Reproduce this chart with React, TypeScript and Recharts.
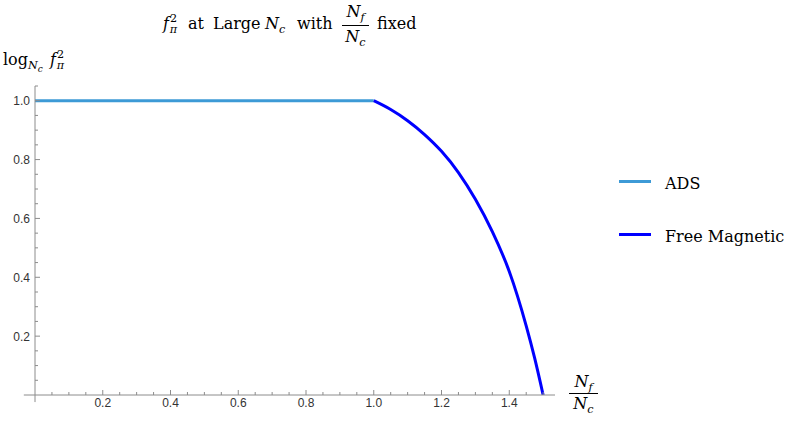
import { LineChart, Line, XAxis, YAxis, ReferenceLine } from 'recharts';

// values
const adsX = [0, 1];
const adsY = [1, 1];

const magX = [1.0, 1.05, 1.1, 1.15, 1.2, 1.25, 1.3, 1.35, 1.4, 1.45, 1.475, 1.5];
const magY = [1.0, 0.97, 0.932, 0.885, 0.828, 0.756, 0.665, 0.555, 0.42, 0.235, 0.125, 0.0];

const xTicks = Array.from({ length: 30 }, (_, i) => Math.round((i + 1) * 5) / 100);
const yTicks = Array.from({ length: 21 }, (_, i) => Math.round((i + 1) * 5) / 100);
const xLabels = [0.2, 0.4, 0.6, 0.8, 1.0, 1.2, 1.4];
const yLabels = [0.2, 0.4, 0.6, 0.8, 1.0];

const adsData = adsX.map((x, i) => ({ x, y: adsY[i] }));
const magData = magX.map((x, i) => ({ x, y: magY[i] }));

const AXIS = '#8c8c8c';
const ADS_COLOR = '#3d9ad6';
const MAG_COLOR = '#0000ff';
const SERIF = '"DejaVu Serif", "Liberation Serif", serif';
const SANS = '"Liberation Sans", Arial, sans-serif';

// drop the default body margin so the page coordinates match the reference
if (typeof document !== 'undefined') document.body.style.margin = '0';

const isMajor = (v: number, labels: number[]) => labels.some((l) => Math.abs(l - v) < 1e-6);

function XTick(props: any) {
  const { x, y, payload } = props;
  const major = isMajor(payload.value, xLabels);
  return (
    <g>
      <line x1={x} x2={x} y1={y} y2={y - (major ? 5 : 3)} stroke={AXIS} strokeWidth={1} />
      {major && (
        <text x={x} y={y + 12} textAnchor="middle" fontSize={12} fontFamily={SANS} fill="#333">
          {payload.value.toFixed(1)}
        </text>
      )}
    </g>
  );
}

function YTick(props: any) {
  const { x, y, payload } = props;
  const major = isMajor(payload.value, yLabels);
  return (
    <g>
      <line x1={x} x2={x + (major ? 5 : 3)} y1={y} y2={y} stroke={AXIS} strokeWidth={1} />
      {major && (
        <text x={x - 5} y={y + 4.5} textAnchor="end" fontSize={12} fontFamily={SANS} fill="#333">
          {payload.value.toFixed(1)}
        </text>
      )}
    </g>
  );
}

const sub = { fontSize: '0.7em', lineHeight: 0 } as const;

const Nf = (
  <>
    <i>N</i>
    <sub style={sub}>
      <i>f</i>
    </sub>
  </>
);
const Nc = (
  <>
    <i>N</i>
    <sub style={sub}>
      <i>c</i>
    </sub>
  </>
);

function FPi() {
  return (
    <>
      <i>f</i>
      <sup style={{ fontSize: '0.7em', lineHeight: 0, marginLeft: '0.1em' }}>2</sup>
      <sub style={{ fontSize: '0.7em', lineHeight: 0, marginLeft: '-0.66em' }}>
        <i>π</i>
      </sub>
    </>
  );
}

// text placed so its baseline lands on `base`
function Txt({ left, base, children }: { left: number; base: number; children: React.ReactNode }) {
  return (
    <div style={{ position: 'absolute', left, top: base - 13.5, fontSize: 16, lineHeight: 1, whiteSpace: 'nowrap' }}>
      {children}
    </div>
  );
}

function Frac({ left, width, numBase, bar, denBase }: { left: number; width: number; numBase: number; bar: number; denBase: number }) {
  return (
    <>
      <div style={{ position: 'absolute', left, width, top: numBase - 13.5, fontSize: 16, lineHeight: 1, textAlign: 'center' }}>
        {Nf}
      </div>
      <div style={{ position: 'absolute', left, width, top: bar - 0.5, height: 1, background: '#000' }} />
      <div style={{ position: 'absolute', left, width, top: denBase - 13.5, fontSize: 16, lineHeight: 1, textAlign: 'center' }}>
        {Nc}
      </div>
    </>
  );
}

export default function App() {
  return (
    <div style={{ position: 'relative', width: 797, height: 423, background: '#fff', fontFamily: SERIF }}>
      <LineChart
        width={797}
        height={423}
        margin={{ top: 86, right: 242, left: 0, bottom: 0 }}
      >
        <XAxis
          type="number"
          dataKey="x"
          domain={[0, 1.535]}
          ticks={xTicks}
          interval={0}
          height={28}
          stroke={AXIS}
          tickLine={false}
          tickSize={0}
          tickMargin={0}
          tick={<XTick />}
          allowDataOverflow
        />
        <YAxis
          type="number"
          dataKey="y"
          domain={[0, 1.05]}
          ticks={yTicks}
          interval={0}
          width={35}
          stroke={AXIS}
          tickLine={false}
          tickSize={0}
          tickMargin={0}
          tick={<YTick />}
          allowDataOverflow
        />
        <ReferenceLine
          segment={[{ x: -0.033, y: 0 }, { x: 0, y: 0 }]}
          stroke={AXIS}
          ifOverflow="visible"
        />
        <ReferenceLine
          segment={[{ x: 0, y: 0 }, { x: 0, y: -0.024 }]}
          stroke={AXIS}
          ifOverflow="visible"
        />
        <Line
          data={adsData}
          dataKey="y"
          type="linear"
          stroke={ADS_COLOR}
          strokeWidth={3}
          dot={false}
          isAnimationActive={false}
        />
        <Line
          data={magData}
          dataKey="y"
          type="monotone"
          stroke={MAG_COLOR}
          strokeWidth={3}
          dot={false}
          isAnimationActive={false}
        />
      </LineChart>

      {/* title */}
      <Txt left={163} base={29}>
        <FPi />
      </Txt>
      <Txt left={188} base={29}>at</Txt>
      <Txt left={213} base={29}>Large</Txt>
      <Txt left={265} base={29}>{Nc}</Txt>
      <Txt left={297} base={29}>with</Txt>
      <Frac left={342} width={27} numBase={17} bar={25} denBase={42} />
      <Txt left={377} base={29}>fixed</Txt>

      {/* y label */}
      <Txt left={3} base={65}>
        log
        <sub style={sub}>
          <i>N</i>
          <sub style={{ fontSize: '0.8em', lineHeight: 0 }}>
            <i>c</i>
          </sub>
        </sub>
      </Txt>
      <Txt left={50} base={65}>
        <FPi />
      </Txt>

      {/* x label */}
      <Frac left={569} width={29} numBase={387} bar={393} denBase={409} />

      {/* legend */}
      {[
        { name: 'ADS', color: ADS_COLOR, base: 189, line: 181.5 },
        { name: 'Free Magnetic', color: MAG_COLOR, base: 242.5, line: 234 },
      ].map((it) => (
        <div key={it.name}>
          <div style={{ position: 'absolute', left: 619, top: it.line - 1.5, width: 32, height: 3, background: it.color }} />
          <Txt left={665} base={it.base}>
            {it.name}
          </Txt>
        </div>
      ))}
    </div>
  );
}
